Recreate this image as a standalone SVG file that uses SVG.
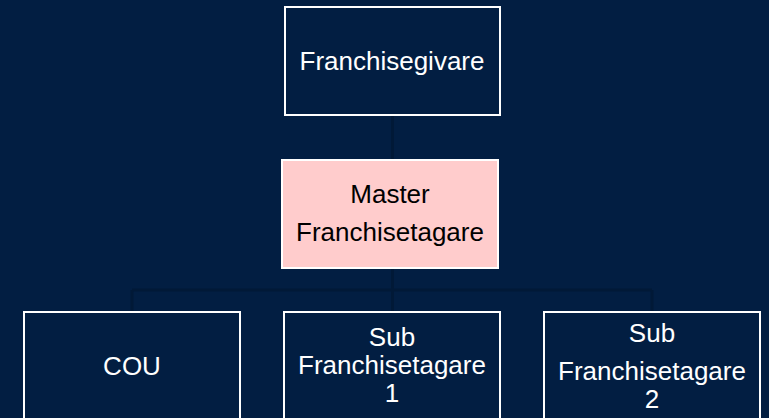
<svg xmlns="http://www.w3.org/2000/svg" width="769" height="418" viewBox="0 0 769 418">
<style>
.box{fill:#021e42;stroke:#ffffff;stroke-width:2}
.pink{fill:#ffcccc;stroke:#ffffff;stroke-width:2}
.t{font-family:"Liberation Sans",Arial,sans-serif;font-size:26px;fill:#ffffff;text-anchor:middle}
.d{fill:#000000}
.c{stroke:#011937;stroke-width:3;fill:none}
</style>
<rect width="769" height="418" fill="#021e42"/>
<g id="connectors">
<path class="c" d="M392.5 116V159M392.5 268V290M132 290H652M132 290V311M392.5 290V311M652 290V311"/>
</g>
<g id="franchisegivare">
<rect class="box" x="285" y="7" width="215" height="108"/>
<text class="t" x="392" y="70">Franchisegivare</text>
</g>
<g id="master">
<rect class="pink" x="282" y="160" width="216" height="108"/>
<text class="t d" x="390" y="203">Master</text>
<text class="t d" x="390" y="241">Franchisetagare</text>
</g>
<g id="cou">
<rect class="box" x="24" y="312" width="216" height="109"/>
<text class="t" x="132" y="375">COU</text>
</g>
<g id="sub1">
<rect class="box" x="284" y="312" width="216" height="109"/>
<text class="t" x="392" y="346">Sub</text>
<text class="t" x="392" y="374">Franchisetagare</text>
<text class="t" x="392" y="402">1</text>
</g>
<g id="sub2">
<rect class="box" x="544" y="312" width="216" height="109"/>
<text class="t" x="652" y="342">Sub</text>
<text class="t" x="652" y="380">Franchisetagare</text>
<text class="t" x="652" y="408">2</text>
</g>
</svg>
